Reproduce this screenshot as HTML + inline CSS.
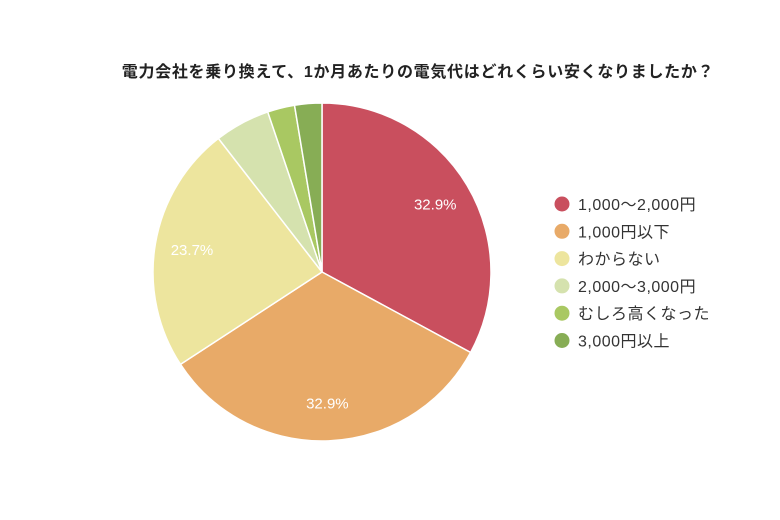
<!DOCTYPE html>
<html><head><meta charset="utf-8"><style>
html,body{margin:0;padding:0;background:#fff;}
svg{display:block;font-family:"Liberation Sans","Noto Sans CJK JP",sans-serif;}
</style></head><body>
<svg id="chart" width="780" height="520" viewBox="0 0 780 520">
<text x="418" y="77" text-anchor="middle" font-size="16" letter-spacing="0.7" font-weight="bold" fill="#222">電力会社を乗り換えて、1か月あたりの電気代はどれくらい安くなりましたか？</text>
<g id="slices"></g><g id="labels"></g><g id="legend"></g>
</svg>
<script>
const categories=["1,000〜2,000円","1,000円以下","わからない","2,000〜3,000円","むしろ高くなった","3,000円以上"];
const values=[32.9,32.9,23.7,5.3,2.6,2.6];
const colors=["#C94F5E","#E8AA68","#EDE59E","#D5E2AE","#A9C862","#87AD55"];
const NS="http://www.w3.org/2000/svg";
const cx=322,cy=272,r=169;
const total=values.reduce((a,b)=>a+b,0);
const sg=document.getElementById('slices'),lg=document.getElementById('labels'),leg=document.getElementById('legend');
function pt(a,rr){return [cx+rr*Math.sin(a),cy-rr*Math.cos(a)];}
let acc=0;
values.forEach((v,i)=>{
 const a0=acc/total*2*Math.PI;acc+=v;const a1=acc/total*2*Math.PI;
 const p0=pt(a0,r),p1=pt(a1,r);
 const p=document.createElementNS(NS,'path');
 p.setAttribute('d',`M${cx},${cy}L${p0[0]},${p0[1]}A${r},${r} 0 ${a1-a0>Math.PI?1:0} 1 ${p1[0]},${p1[1]}Z`);
 p.setAttribute('fill',colors[i]);p.setAttribute('stroke','#fff');p.setAttribute('stroke-width','1.5');
 
 
 sg.appendChild(p);
 if(v/total>0.1){
  const m=pt((a0+a1)/2,r*0.78);
  const t=document.createElementNS(NS,'text');
  t.setAttribute('x',m[0]);t.setAttribute('y',m[1]+5);t.setAttribute('text-anchor','middle');
  t.setAttribute('font-size','15');t.setAttribute('fill','#fff');
  t.textContent=v.toFixed(1)+'%';
  
  
  lg.appendChild(t);
 }
 const y=204+i*27.3;
 const g=document.createElementNS(NS,'g');
 
 
 const c=document.createElementNS(NS,'circle');
 c.setAttribute('cx',562);c.setAttribute('cy',y);c.setAttribute('r',7.5);c.setAttribute('fill',colors[i]);
 
 
 const t=document.createElementNS(NS,'text');
 t.setAttribute('x',578);t.setAttribute('y',y+6);t.setAttribute('font-size','16');t.setAttribute('letter-spacing','0.5');t.setAttribute('fill','#333');
 t.textContent=categories[i];
 
 
 g.appendChild(c);g.appendChild(t);leg.appendChild(g);
});
</script>
</body></html>
